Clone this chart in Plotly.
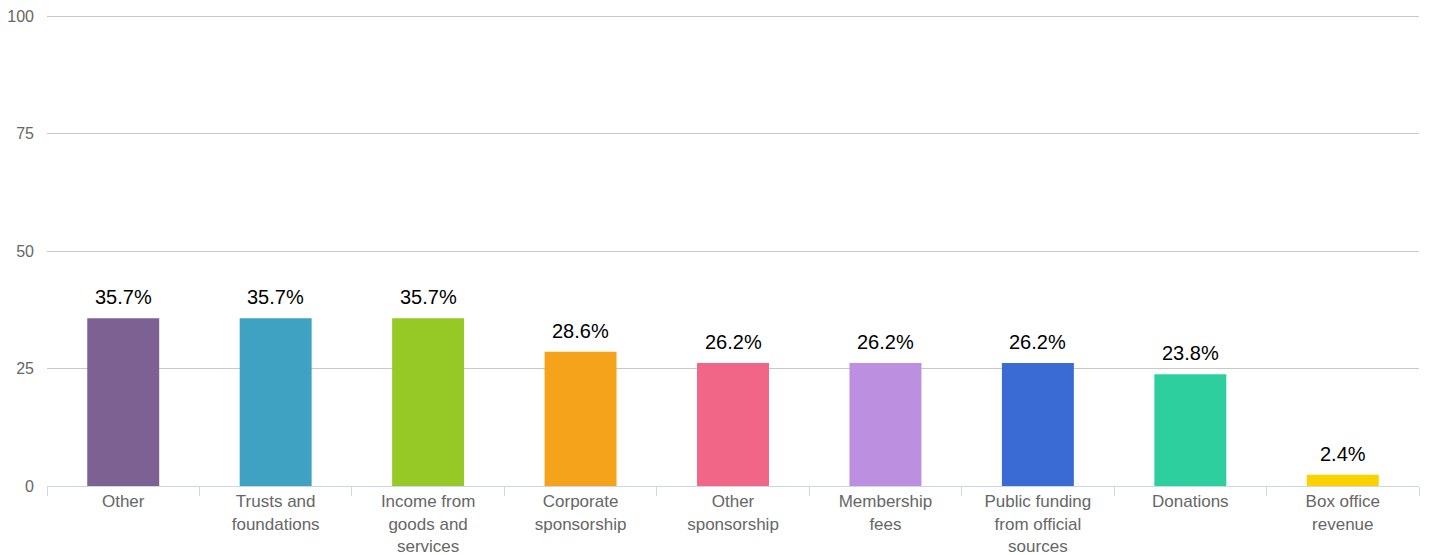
import plotly.graph_objects as go

categories = ["Other", "Trusts and<br>foundations", "Income from<br>goods and<br>services",
              "Corporate<br>sponsorship", "Other<br>sponsorship", "Membership<br>fees",
              "Public funding<br>from official<br>sources", "Donations", "Box office<br>revenue"]
values = [35.7, 35.7, 35.7, 28.6, 26.2, 26.2, 26.2, 23.8, 2.4]
colors = ["#7e6193", "#3fa2c2", "#96c926", "#f5a31a", "#f16586", "#bd8fe1", "#3a6bd4", "#2ecf9f", "#f9d200"]
y_ticks = [0, 25, 50, 75, 100]
FONT = "Liberation Sans, Arial, sans-serif"

fig = go.Figure(go.Bar(
    x=categories, y=values, marker=dict(color=colors, line=dict(width=0)),
    width=0.472, cliponaxis=False, hoverinfo="x+y",
))
for c, v in zip(categories, values):
    fig.add_annotation(x=c, y=v, text=f"{v}%", showarrow=False, yanchor="bottom", yshift=8,
                       font=dict(family=FONT, size=20, color="#000000"))
fig.update_layout(
    width=1421, height=547, margin=dict(l=39, r=10, t=7, b=69),
    plot_bgcolor="white", paper_bgcolor="white", showlegend=False,
    font=dict(family=FONT, size=17, color="#666666"),
    xaxis=dict(showline=True, linecolor="#ccd6eb", linewidth=1, ticks="outside", tickson="boundaries",
               ticklen=9, tickcolor="#ccd6eb", tickfont=dict(size=17, color="#666666"), showgrid=False,
               automargin=False),
    yaxis=dict(range=[0, 100.3], tickvals=y_ticks, showgrid=True, gridcolor="#c8c8c8", gridwidth=1,
               zeroline=False, tickfont=dict(size=16, color="#666666"), ticklabelstandoff=12,
               automargin=False),
)
fig.write_html("out.html")
